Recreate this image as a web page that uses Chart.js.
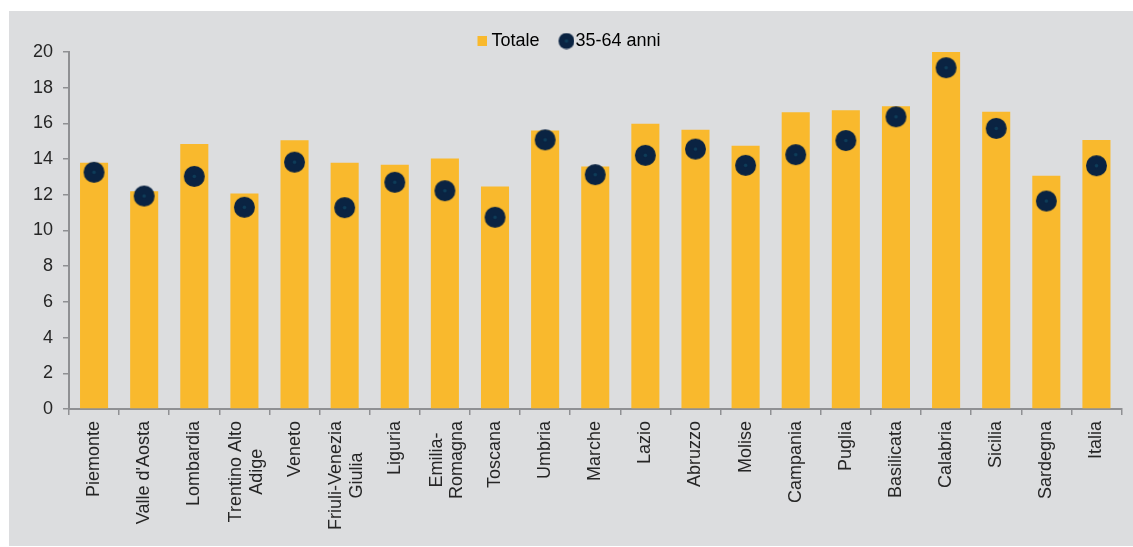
<!doctype html>
<html lang="it">
<head>
<meta charset="utf-8">
<title>Totale vs 35-64 anni</title>
<script src="https://cdn.jsdelivr.net/npm/chart.js@4"></script>
<style>
  html, body { margin: 0; padding: 0; background: #fff; }
  body { width: 1133px; height: 547px; position: relative; overflow: hidden; }
  .box { position: absolute; left: 9px; top: 11px; width: 1124px; height: 535px; background: #dcdddf; }
</style>
</head>
<body>
<div class="box"><canvas id="c" width="1124" height="535"></canvas></div>
<script>
// dati
const regioni = [
  'Piemonte', "Valle d'Aosta", 'Lombardia', ['Trentino Alto', 'Adige'], 'Veneto',
  ['Friuli-Venezia', 'Giulia'], 'Liguria', ['Emilia-', 'Romagna'], 'Toscana', 'Umbria',
  'Marche', 'Lazio', 'Abruzzo', 'Molise', 'Campania', 'Puglia', 'Basilicata',
  'Calabria', 'Sicilia', 'Sardegna', 'Italia'
];
const totale = [13.8, 12.2, 14.85, 12.07, 15.05, 13.8, 13.69, 14.04, 12.46, 15.6,
  13.59, 15.98, 15.64, 14.75, 16.62, 16.74, 16.96, 20.0, 16.65, 13.07, 15.07];
const anni3564 = [13.26, 11.93, 13.03, 11.3, 13.83, 11.28, 12.7, 12.23, 10.74, 15.08,
  13.13, 14.21, 14.56, 13.65, 14.25, 15.04, 16.37, 19.12, 15.72, 11.65, 13.63];
const yTicks = [0, 2, 4, 6, 8, 10, 12, 14, 16, 18, 20];

const GIALLO = '#f9b92d';
const BLU = '#0a2342';
const TESTO = '#262626';
const ASSE = '#8f9093';
const FONT = "'Liberation Sans', Arial, sans-serif";

// icone disegnate a mano: il pallino ha il puntino centrale come nell'originale.
// In legenda l'icona sta sul lato destro della tela così il testo le resta vicino.
function icona(w, h, draw) {
  const cv = document.createElement('canvas');
  cv.width = w; cv.height = h;
  draw(cv.getContext('2d'));
  return cv;
}
function pallino(g, cx, cy, r) {
  g.fillStyle = BLU;
  g.beginPath(); g.arc(cx, cy, r, 0, Math.PI * 2); g.fill();
  g.fillStyle = '#0e3d5a';
  g.beginPath(); g.arc(cx, cy, 1.8, 0, Math.PI * 2); g.fill();
}
const puntoDot = icona(23, 23, (g) => pallino(g, 11.5, 11.5, 10.5));
const legDot = icona(43, 17, (g) => pallino(g, 35, 8.5, 8));
const legSq = icona(37, 10, (g) => { g.fillStyle = GIALLO; g.fillRect(27, 0, 10, 10); });

// Etichette su due righe: centrate fra loro e sulla categoria, come in Excel
const centraRighe = {
  id: 'centraRighe',
  beforeDraw(chart) {
    const sc = chart.scales.x;
    const ctx = chart.ctx;
    for (const it of sc.getLabelItems()) {
      if (!Array.isArray(it.label) || it._centrata) continue;
      ctx.font = it.font.string;
      const w = Math.max(...it.label.map((s) => ctx.measureText(s).width));
      it.options.textAlign = 'center';
      it.options.translation[1] += w / 2;
      it.options.translation[0] -= (it.label.length - 1) * it.font.lineHeight / 2 - 2;
      it._centrata = true;
    }
  },
};

// la legenda di Chart.js lascia 10px sotto: qui la si avvicina al grafico
// e la si sposta un po' a sinistra come nell'originale
const legendaStretta = {
  id: 'legendaStretta',
  beforeLayout(chart) {
    const lg = chart.legend;
    if (!lg || lg._stretta) return;
    const fit = lg.fit.bind(lg);
    lg.fit = function () { fit(); this.height -= 8; };
    lg._stretta = true;
  },
  afterLayout(chart) {
    const lg = chart.legend;
    if (!lg) return;
    lg.left -= 9;
    lg.right -= 9;
  },
};

new Chart(document.getElementById('c'), {
  data: {
    labels: regioni,
    datasets: [
      { type: 'line', label: '35-64 anni', data: anni3564, showLine: false,
        pointStyle: puntoDot, pointRadius: 10.5, backgroundColor: BLU, borderColor: BLU, order: 0 },
      { type: 'bar', label: 'Totale', data: totale, backgroundColor: GIALLO,
        barPercentage: 0.56, categoryPercentage: 1, order: 1 },
    ],
  },
  plugins: [centraRighe, legendaStretta],
  options: {
    responsive: false,
    animation: false,
    layout: { padding: { top: 21, right: 8, left: 0, bottom: 0 } },
    plugins: {
      tooltip: { enabled: false },
      legend: {
        position: 'top',
        labels: {
          usePointStyle: true,
          pointStyleWidth: 27,
          boxHeight: 18,
          padding: 0,
          color: TESTO,
          font: { family: FONT, size: 18 },
          generateLabels: () => [
            { text: 'Totale', pointStyle: legSq, fillStyle: GIALLO, strokeStyle: GIALLO, lineWidth: 0, datasetIndex: 1 },
            { text: '35-64 anni', pointStyle: legDot, fillStyle: BLU, strokeStyle: BLU, lineWidth: 0, datasetIndex: 0 },
          ],
        },
      },
    },
    scales: {
      x: {
        offset: true,
        afterFit: (s) => { s.height = 137; },
        grid: { display: true, drawOnChartArea: false, drawTicks: true, tickLength: 6, color: ASSE, lineWidth: 1.5, offset: true },
        border: { color: ASSE, width: 2 },
        ticks: { autoSkip: false, maxRotation: 90, minRotation: 90, padding: 6, color: TESTO,
          font: { family: FONT, size: 18, lineHeight: 1.15 } },
      },
      y: {
        min: 0, max: 20,
        afterFit: (s) => { s.width = 60; },
        afterBuildTicks: (s) => { s.ticks = yTicks.map((v) => ({ value: v })); },
        grid: { display: true, drawOnChartArea: false, drawTicks: true, tickLength: 6, color: ASSE, lineWidth: 1.5 },
        border: { color: ASSE, width: 2 },
        ticks: { padding: 10, color: TESTO, font: { family: FONT, size: 18 } },
      },
    },
  },
});
</script>
</body>
</html>
